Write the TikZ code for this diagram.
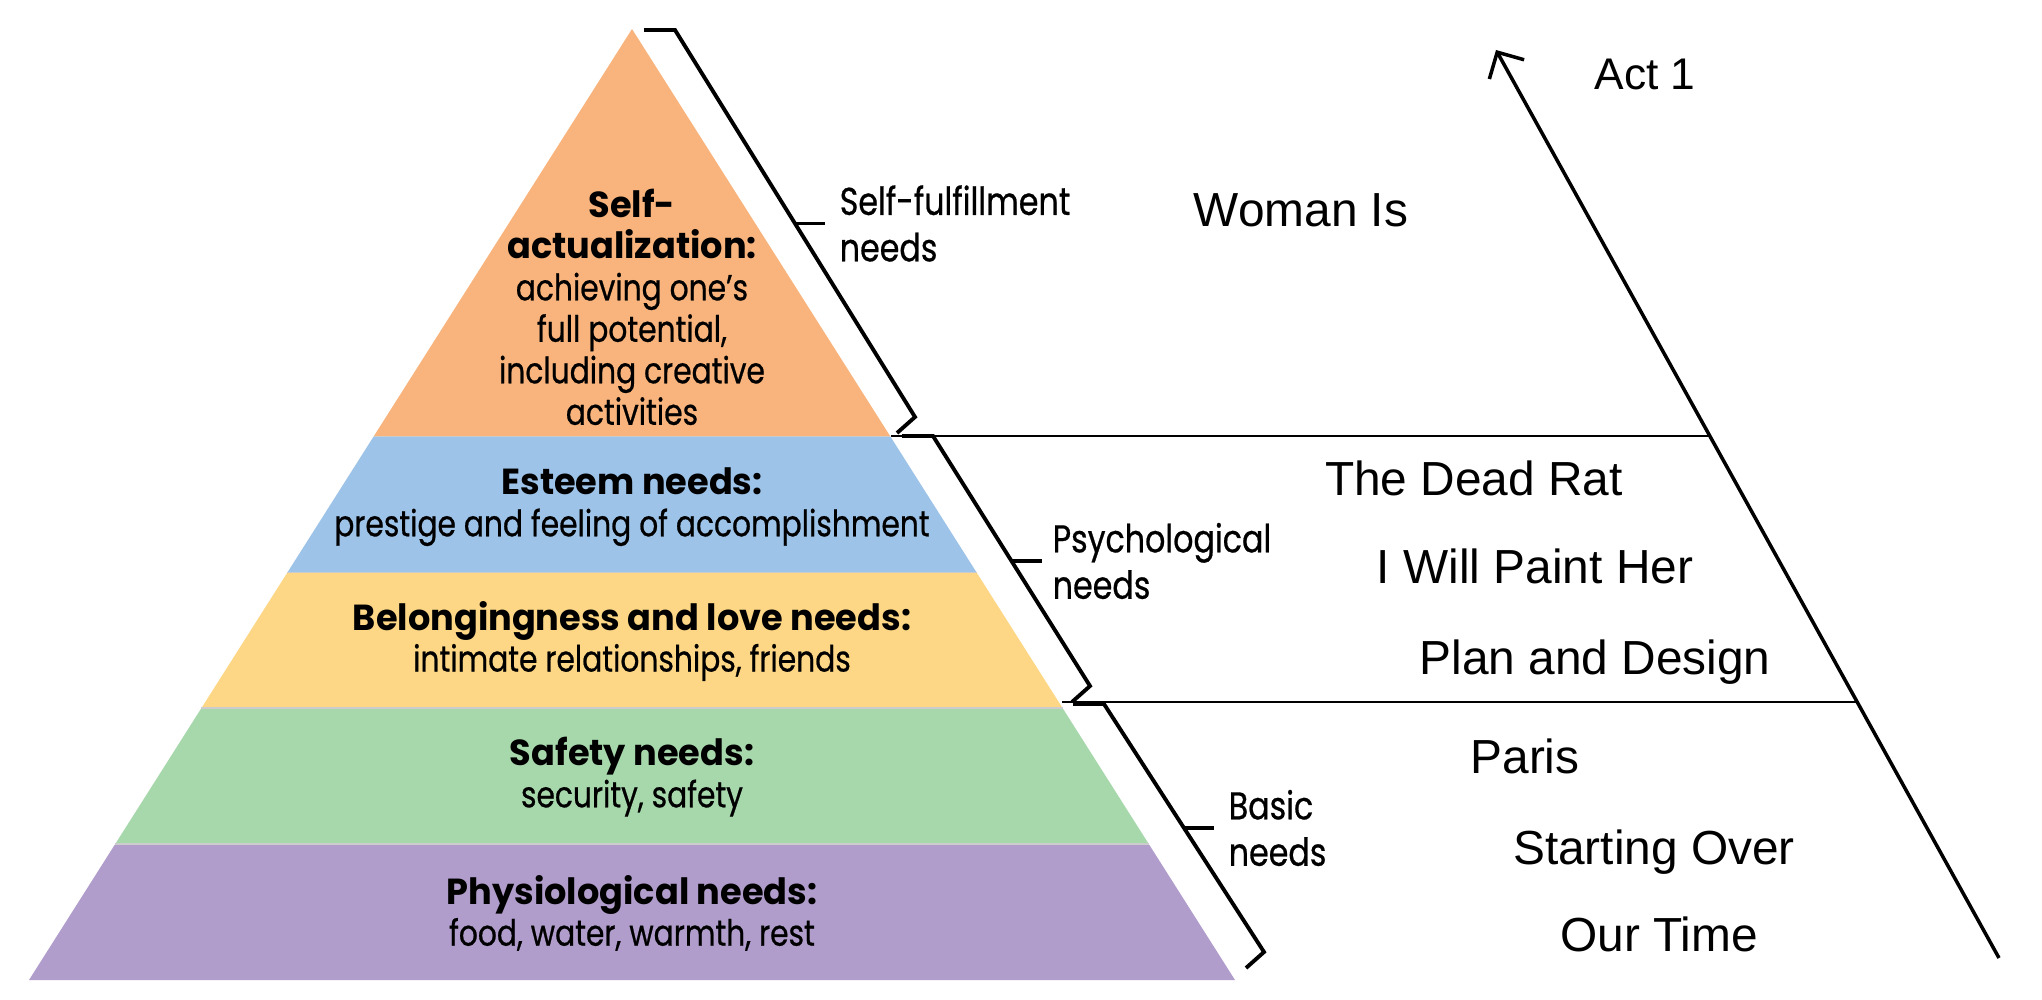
\documentclass[tikz,border=0pt]{standalone}
\usepackage{fontspec}
\usepackage{tikz}
\usetikzlibrary{calc, positioning, arrows.meta}
\setmainfont{Liberation Sans}
\newfontfamily\pyrfont[FakeStretch=0.82, FakeBold=0.6]{Poppins}
\newfontfamily\pyrhead[FakeStretch=0.97]{Poppins}

\definecolor{selfcol}{HTML}{F8B47C}
\definecolor{esteemcol}{HTML}{9DC3E8}
\definecolor{lovecol}{HTML}{FDD785}
\definecolor{safetycol}{HTML}{A7D8AC}
\definecolor{physcol}{HTML}{B19DCB}

\newcommand{\bandhead}[1]{{\pyrhead\bfseries #1}}

\tikzset{
    bandtext/.style={font=\pyrfont\fontsize{10.3}{11.8}\selectfont, align=center, inner sep=0pt},
    needlabel/.style={font=\pyrfont\fontsize{11}{13.2}\selectfont, align=left, inner sep=0pt},
    bracket/.style={line width=1.1pt, line join=miter},
    bandsep/.style={draw=black!20, line width=0.5pt},
    divider/.style={line width=0.45pt},
    playtitle/.style={font=\fontsize{13.6}{16}\selectfont, anchor=base, inner sep=0pt},
}

\begin{document}
\begin{tikzpicture}[x=0.01cm, y=-0.01cm]
        \useasboundingbox (0,0) rectangle (2042,1000);

        % Pyramid corners and band edges
        \coordinate (apex) at (632,29);
        \coordinate (BL) at (29,980);
        \coordinate (BR) at (1235,980);
        \foreach \k in {3,4,5,6,7} {
            \coordinate (L\k) at ($(apex)!\k/7!(BL)$);
            \coordinate (R\k) at ($(apex)!\k/7!(BR)$);
        }

        \fill[selfcol] (apex) -- (R3) -- (L3) -- cycle;
        \foreach \a/\b/\col in {3/4/esteemcol, 4/5/lovecol, 5/6/safetycol, 6/7/physcol}
            \fill[\col] (L\a) -- (R\a) -- (R\b) -- (L\b) -- cycle;
        \foreach \k in {3,4,5,6}
            \draw[bandsep] (L\k) -- (R\k);

        \node[bandtext] (selfact) at (632,307) {\bandhead{Self-}\\\bandhead{actualization:}\\achieving one’s\\full potential,\\including creative\\activities};
        \node[bandtext] (esteem) at (632,507) {\bandhead{Esteem needs:}\\prestige and feeling of accomplishment};
        \node[bandtext] (love) at (632,641) {\bandhead{Belongingness and love needs:}\\intimate relationships, friends};
        \node[bandtext] (safety) at (632,777) {\bandhead{Safety needs:}\\security, safety};
        \node[bandtext] (physio) at (632,913) {\bandhead{Physiological needs:}\\food, water, warmth, rest};

        % Brackets along the right side
        \foreach \n/\xa/\ya/\xb/\yb in {fulfil/675/30/915/417, psych/933/436/1090/686, basic/1104/704/1264/952} {
            \draw[bracket] ($(\xa,\ya)+(-31,0)$) -- (\xa,\ya) -- (\xb,\yb) -- ++(-18,16);
            \coordinate (\n-mid) at ($(\xa,\ya)!0.5!(\xb,\yb)$);
            \draw[bracket] (\n-mid) -- ++(30,0) coordinate (\n-tick);
        }

        \node[needlabel, right=4pt of fulfil-tick] (fulfil) {Self-fulfillment\\needs};
        \node[needlabel, right=3pt of psych-tick] (psych) {Psychological\\needs};
        \node[needlabel, right=4pt of basic-tick] (basic) {Basic\\needs};

        % Act divisions and arrow
        \coordinate (tail) at (1999,958);
        \coordinate (tip) at (1496,50);
        \coordinate (d1a) at (891,436);
        \coordinate (d1b) at (1709,436);
        \coordinate (d2a) at (1062,702);
        \coordinate (d2b) at (1856,702);
        \draw[divider] (d1a) -- (d1b);
        \draw[divider] (d2a) -- (d2b);
        \draw[line width=1pt, -{Straight Barb[length=5.6pt,width=11.3pt]}] (tail) -- (tip);

        \node[playtitle, font=\fontsize{12.6}{15}\selectfont] (act) at (1645,89) {Act 1};
        \node[playtitle] (woman) at (1301,226) {Woman Is};
        \node[playtitle] (deadrat) at (1474,495) {The Dead Rat};
        \node[playtitle] (paint) at (1535,583) {I Will Paint Her};
        \node[playtitle] (plan) at (1595,674) {Plan and Design};
        \node[playtitle] (paris) at (1525,773) {Paris};
        \node[playtitle] (over) at (1654,864) {Starting Over};
        \node[playtitle] (time) at (1659,951) {Our Time};
    \end{tikzpicture}
\end{document}
